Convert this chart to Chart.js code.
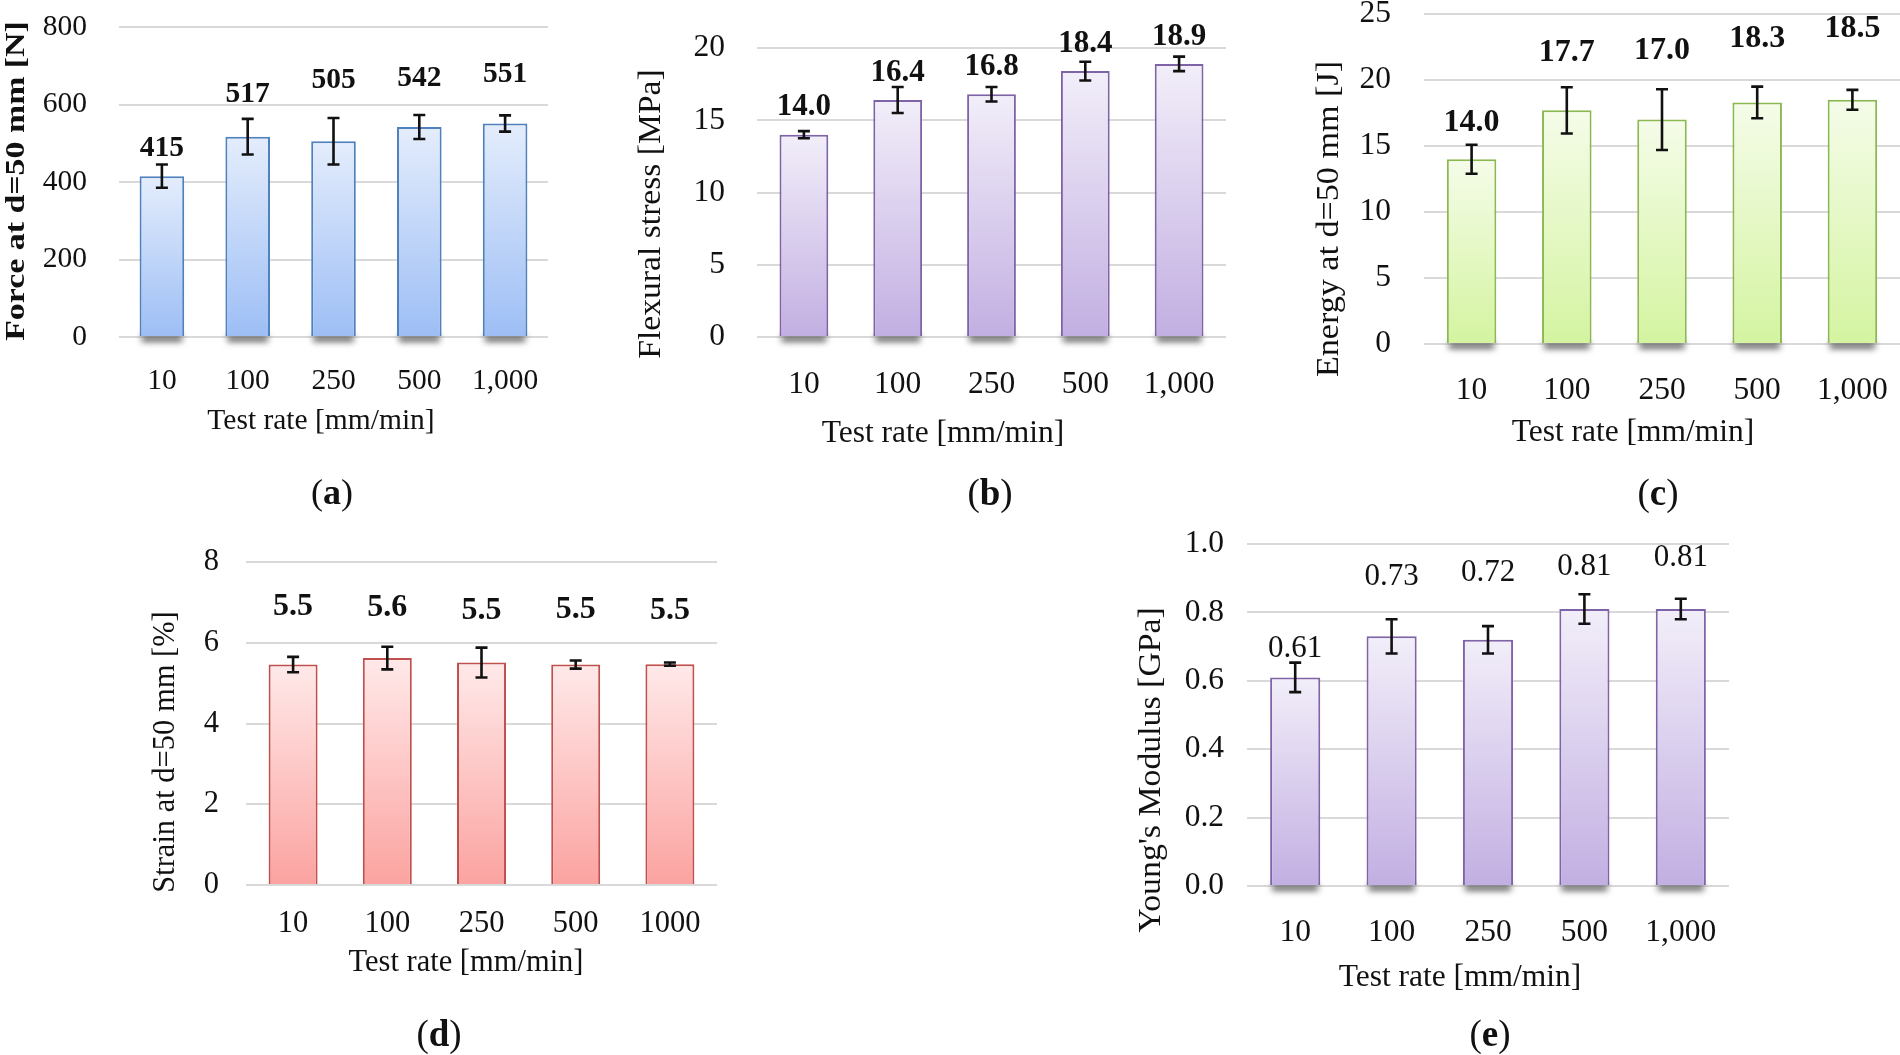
<!DOCTYPE html>
<html>
<head>
<meta charset="utf-8">
<title>Test rate panels</title>
<script src="https://cdn.jsdelivr.net/npm/chart.js@4.4.1/dist/chart.umd.min.js"></script>
<style>
  html, body { margin: 0; padding: 0; background: #fff; }
  #page { position: relative; width: 1900px; height: 1055px; overflow: hidden; }
  #page canvas { position: absolute; left: 0; top: 0; }
</style>
</head>
<body>
<div id="page">
  <canvas id="chartA" width="1900" height="1055"></canvas>
  <canvas id="chartB" width="1900" height="1055"></canvas>
  <canvas id="chartC" width="1900" height="1055"></canvas>
  <canvas id="chartD" width="1900" height="1055"></canvas>
  <canvas id="chartE" width="1900" height="1055"></canvas>
</div>
<script>
// categories
const rateLabels = ['10', '100', '250', '500', '1,000'];
const rateLabelsPlain = ['10', '100', '250', '500', '1000'];

// (a) force at d=50 mm
const forceMean = [415, 517, 505, 542, 551];
const forceErr = [30, 46, 60, 31, 21];
const forceTicks = [0, 200, 400, 600, 800];
const forceLabelAt = [488, 626, 662, 668, 679];

// (b) flexural stress
const stressMean = [14.0, 16.4, 16.8, 18.4, 18.9];
const stressErr = [0.25, 0.9, 0.5, 0.65, 0.5];
const stressTicks = [0, 5, 10, 15, 20];
const stressLabelAt = [15.95, 18.25, 18.7, 20.3, 20.75];

// (c) energy at d=50 mm
const energyMean = [14.0, 17.7, 17.0, 18.3, 18.5];
const energyErr = [1.1, 1.75, 2.3, 1.2, 0.75];
const energyTicks = [0, 5, 10, 15, 20, 25];
const energyLabelAt = [16.75, 22.1, 22.2, 23.1, 23.9];

// (d) strain at d=50 mm
const strainMean = [5.46, 5.62, 5.51, 5.46, 5.47];
const strainErr = [0.19, 0.28, 0.37, 0.1, 0.04];
const strainTicks = [0, 2, 4, 6, 8];
const strainLabelAt = [6.88, 6.87, 6.8, 6.83, 6.8];

// (e) Young's modulus
const modulusMean = [0.61, 0.73, 0.72, 0.81, 0.81];
const modulusErr = [0.043, 0.05, 0.04, 0.043, 0.03];
const modulusTicks = [0.0, 0.2, 0.4, 0.6, 0.8, 1.0];
const modulusLabelAt = [0.694, 0.905, 0.917, 0.932, 0.96];

const FONT = '"Liberation Serif", "DejaVu Serif", "Times New Roman", serif';
const W = 1900, H = 1055;
const Y_AXIS_W = 100, X_AXIS_H = 80;

const palettes = {
  blue:   { top: '#e4edfc', bottom: '#9dbef5', border: '#4f81bd' },
  purple: { top: '#f2eef9', bottom: '#c2afe2', border: '#7e63a6' },
  green:  { top: '#f5fce9', bottom: '#d4f4a0', border: '#8cb852' },
  red:    { top: '#ffe9e9', bottom: '#fba3a0', border: '#c0504d' }
};

function barGradient(c, pal) {
  const chart = c.chart;
  if (!chart.chartArea || c.raw === undefined) return pal.top;
  const ys = chart.scales.y;
  const top = ys.getPixelForValue(c.raw);
  const bottom = ys.getPixelForValue(0);
  if (!isFinite(top) || !isFinite(bottom) || top === bottom) return pal.top;
  const g = chart.ctx.createLinearGradient(0, top, 0, bottom);
  g.addColorStop(0, pal.top);
  g.addColorStop(1, pal.bottom);
  return g;
}

// titles, caption, error bars, value labels, bar shadows
function makeExtras(p) {
  return {
    id: 'extras',
    beforeDatasetsDraw(chart) {
      if (!p.shadow) return;
      const ctx = chart.ctx;
      const bars = chart.getDatasetMeta(0).data;
      ctx.save();
      ctx.filter = 'blur(3px)';
      ctx.fillStyle = 'rgba(70,70,70,0.8)';
      bars.forEach(b => {
        ctx.fillRect(b.x - b.width / 2 + 2, b.base - 1, b.width - 4, 7);
      });
      ctx.restore();
    },
    afterDatasetsDraw(chart) {
      const ctx = chart.ctx;
      const ys = chart.scales.y;
      const bars = chart.getDatasetMeta(0).data;
      ctx.save();
      ctx.strokeStyle = '#111';
      ctx.lineWidth = 2.6;
      bars.forEach((b, i) => {
        const hi = ys.getPixelForValue(p.mean[i] + p.err[i]);
        const lo = ys.getPixelForValue(p.mean[i] - p.err[i]);
        ctx.beginPath();
        ctx.moveTo(b.x, hi); ctx.lineTo(b.x, lo);
        ctx.moveTo(b.x - 6, hi); ctx.lineTo(b.x + 6, hi);
        ctx.moveTo(b.x - 6, lo); ctx.lineTo(b.x + 6, lo);
        ctx.stroke();
      });
      ctx.restore();
    },
    afterDraw(chart) {
      const ctx = chart.ctx;
      const ys = chart.scales.y;
      const bars = chart.getDatasetMeta(0).data;
      ctx.save();
      ctx.fillStyle = '#111';
      ctx.textAlign = 'center';
      ctx.textBaseline = 'middle';

      // value labels
      ctx.font = (p.boldValues ? 'bold ' : '') + p.valueFs + 'px ' + FONT;
      bars.forEach((b, i) => {
        ctx.fillText(p.mean[i].toFixed(p.decimals), b.x, ys.getPixelForValue(p.labelAt[i]));
      });

      // x axis title
      ctx.font = p.fs + 'px ' + FONT;
      ctx.fillText('Test rate [mm/min]', p.xTitle[0], p.xTitle[1]);

      // y axis title (rotated, stretched along its length like the source)
      ctx.save();
      ctx.translate(p.yTitle[0], p.yTitle[1]);
      ctx.rotate(-Math.PI / 2);
      ctx.scale(p.yStretch, 1);
      ctx.font = (p.boldYTitle ? 'bold ' : '') + p.yFs + 'px ' + FONT;
      ctx.fillText(p.yText, 0, 0);
      ctx.restore();

      // caption "(x)"
      ctx.textAlign = 'left';
      const reg = p.capFs + 'px ' + FONT, bold = 'bold ' + p.capFs + 'px ' + FONT;
      ctx.font = reg;
      const wp = ctx.measureText('(').width, wq = ctx.measureText(')').width;
      ctx.font = bold;
      const wl = ctx.measureText(p.caption).width;
      let x = p.cap[0] - (wp + wl + wq) / 2;
      ctx.font = reg; ctx.fillText('(', x, p.cap[1]); x += wp;
      ctx.font = bold; ctx.fillText(p.caption, x, p.cap[1]); x += wl;
      ctx.font = reg; ctx.fillText(')', x, p.cap[1]);
      ctx.restore();
    }
  };
}

function makePanel(id, p) {
  const pal = palettes[p.palette];
  const step = p.ticks[1] - p.ticks[0];
  return new Chart(document.getElementById(id), {
    type: 'bar',
    data: {
      labels: p.labels,
      datasets: [{
        data: p.mean,
        backgroundColor: c => barGradient(c, pal),
        borderColor: pal.border,
        borderWidth: 2,
        barPercentage: 0.52,
        categoryPercentage: 1
      }]
    },
    options: {
      responsive: false,
      animation: false,
      events: [],
      layout: {
        padding: {
          left: p.area.left - Y_AXIS_W,
          right: W - p.area.right,
          top: p.area.top,
          bottom: H - p.area.bottom - X_AXIS_H
        }
      },
      plugins: { legend: { display: false }, tooltip: { enabled: false } },
      scales: {
        x: {
          grid: { display: false },
          border: { display: false },
          ticks: {
            color: '#111', font: { family: FONT, size: p.fs },
            padding: p.xTickPad, maxRotation: 0, autoSkip: false
          },
          afterFit: s => { s.height = X_AXIS_H; s.paddingLeft = 0; s.paddingRight = 0; }
        },
        y: {
          min: p.ticks[0],
          max: p.ticks[p.ticks.length - 1],
          grid: { color: '#d9d9d9', lineWidth: 2, drawTicks: false },
          border: { display: false },
          ticks: {
            stepSize: step,
            color: '#111', font: { family: FONT, size: p.fs },
            padding: p.area.left - p.tickRight,
            callback: v => v.toFixed(p.tickDecimals)
          },
          afterFit: s => { s.width = Y_AXIS_W; s.paddingTop = 0; s.paddingBottom = 0; }
        }
      }
    },
    plugins: [makeExtras(p)]
  });
}

makePanel('chartA', {
  labels: rateLabels, mean: forceMean, err: forceErr, ticks: forceTicks, labelAt: forceLabelAt,
  decimals: 0, tickDecimals: 0, palette: 'blue', shadow: true, boldValues: true,
  fs: 29.5, valueFs: 29.5, capFs: 36,
  area: { left: 119, right: 548, top: 27, bottom: 337 }, tickRight: 87, xTickPad: 19,
  xTitle: [321, 421], yTitle: [17, 181], yText: 'Force at d=50 mm [N]', boldYTitle: true, yFs: 28, yStretch: 1.21,
  caption: 'a', cap: [332, 495]
});

makePanel('chartB', {
  labels: rateLabels, mean: stressMean, err: stressErr, ticks: stressTicks, labelAt: stressLabelAt,
  decimals: 1, tickDecimals: 0, palette: 'purple', shadow: true, boldValues: true,
  fs: 31.5, valueFs: 31, capFs: 37,
  area: { left: 757, right: 1226, top: 48, bottom: 337 }, tickRight: 725, xTickPad: 21,
  xTitle: [943, 434], yTitle: [652, 214], yText: 'Flexural stress [MPa]', boldYTitle: false, yFs: 31.5, yStretch: 1.067,
  caption: 'b', cap: [990, 495]
});

makePanel('chartC', {
  labels: rateLabels, mean: energyMean, err: energyErr, ticks: energyTicks, labelAt: energyLabelAt,
  decimals: 1, tickDecimals: 0, palette: 'green', shadow: true, boldValues: true,
  fs: 31.5, valueFs: 32, capFs: 37,
  area: { left: 1424, right: 1900, top: 14, bottom: 344 }, tickRight: 1391, xTickPad: 20,
  xTitle: [1633, 433], yTitle: [1330, 219], yText: 'Energy at d=50 mm [J]', boldYTitle: false, yFs: 31.5, yStretch: 1.083,
  caption: 'c', cap: [1658, 495]
});

makePanel('chartD', {
  labels: rateLabelsPlain, mean: strainMean, err: strainErr, ticks: strainTicks, labelAt: strainLabelAt,
  decimals: 1, tickDecimals: 0, palette: 'red', shadow: false, boldValues: true,
  fs: 30.5, valueFs: 32, capFs: 37,
  area: { left: 246, right: 717, top: 562, bottom: 885 }, tickRight: 219, xTickPad: 13,
  xTitle: [466, 963], yTitle: [166, 752], yText: 'Strain at d=50 mm [%]', boldYTitle: false, yFs: 30.5, yStretch: 1.0,
  caption: 'd', cap: [439, 1036]
});

makePanel('chartE', {
  labels: rateLabels, mean: modulusMean, err: modulusErr, ticks: modulusTicks, labelAt: modulusLabelAt,
  decimals: 2, tickDecimals: 1, palette: 'purple', shadow: true, boldValues: false,
  fs: 31.5, valueFs: 31, capFs: 37,
  area: { left: 1247, right: 1729, top: 544, bottom: 886 }, tickRight: 1224, xTickPad: 20,
  xTitle: [1460, 978], yTitle: [1152, 770], yText: "Young's Modulus [GPa]", boldYTitle: false, yFs: 31.5, yStretch: 1.073,
  caption: 'e', cap: [1490, 1036]
});
</script>
</body>
</html>
